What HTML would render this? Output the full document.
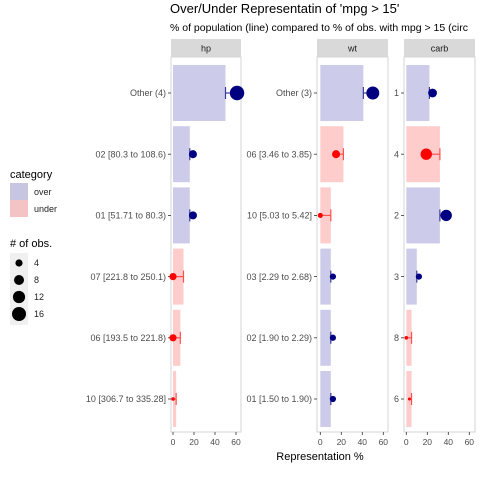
<!DOCTYPE html>
<html><head><meta charset="utf-8"><style>
body{margin:0;background:#fff}
svg text{font-family:"Liberation Sans",sans-serif}
</style></head><body>
<svg id="c" width="480" height="480" viewBox="0 0 480 480">
<text x="170" y="13" font-size="13" fill="#000">Over/Under Representatin of 'mpg &gt; 15'</text>
<text x="170" y="31" font-size="10.5" fill="#000">% of population (line) compared to % of obs. with mpg &gt; 15 (circ</text>
<text x="320" y="460" font-size="11" text-anchor="middle" fill="#000">Representation %</text>
<g>
<text x="10" y="178" font-size="11">category</text>
<rect x="10" y="183" width="18" height="17" fill="#c6c6e2"/>
<rect x="10" y="200" width="18" height="17" fill="#f4c4c4"/>
<text x="34" y="195" font-size="9" fill="#222">over</text>
<text x="34" y="212" font-size="9" fill="#222">under</text>
<text x="10" y="247" font-size="11"># of obs.</text>
<rect x="10" y="253" width="18" height="72" fill="#f0f0f0"/>
<circle cx="19" cy="263" r="3.6" fill="#000"/>
<circle cx="19" cy="280" r="5" fill="#000"/>
<circle cx="19" cy="297" r="6.1" fill="#000"/>
<circle cx="19" cy="314" r="7" fill="#000"/>
<text x="34" y="266" font-size="9" fill="#222">4</text>
<text x="34" y="283" font-size="9" fill="#222">8</text>
<text x="34" y="300" font-size="9" fill="#222">12</text>
<text x="34" y="317" font-size="9" fill="#222">16</text>
</g>
</svg>
<script>
const hpCats=["Other (4)","02 [80.3 to 108.6)","01 [51.71 to 80.3)","07 [221.8 to 250.1)","06 [193.5 to 221.8)","10 [306.7 to 335.28]"];
const hpPop=[50,16,16,10,7,3];
const hpObs=[61,19,19,0,0,0];
const hpN=[16,5,5,4,4,1];
const wtCats=["Other (3)","06 [3.46 to 3.85)","10 [5.03 to 5.42]","03 [2.29 to 2.68)","02 [1.90 to 2.29)","01 [1.50 to 1.90)"];
const wtPop=[41,22,10,10,10,10];
const wtObs=[50,15,0,12,12,12];
const wtN=[13,5,2,3,3,3];
const carbCats=["1","4","2","3","8","6"];
const carbPop=[22,32,32,10,5,5];
const carbObs=[25,19,38,12,0,3];
const carbN=[6,10,10,3,1,0.3];
const ticks=[0,20,40,60];
const panels=[
 {name:"hp",left:171,right:241,x0:173,cats:hpCats,pop:hpPop,obs:hpObs,n:hpN},
 {name:"wt",left:317,right:388,x0:320.3,cats:wtCats,pop:wtPop,obs:wtObs,n:wtN},
 {name:"carb",left:404,right:475,x0:406.3,cats:carbCats,pop:carbPop,obs:carbObs,n:carbN}
];
const NS="http://www.w3.org/2000/svg";
const svgEl=document.getElementById('c');
function mk(t,a,p){const e=document.createElementNS(NS,t);for(const k in a)e.setAttribute(k,a[k]);(p||svgEl).appendChild(e);return e;}
const plotTop=57,plotBottom=432,firstRow=93,rowStep=61.2;
panels.forEach(P=>{
 const sx=v=>P.x0+v*1.05;
 const yc=i=>firstRow+rowStep*i;
 const g=mk('g',{});
 
 
 const strip=mk('rect',{x:P.left,y:39,width:P.right-P.left,height:18,fill:'#d9d9d9'},g);
 
 
 const st=mk('text',{x:(P.left+P.right)/2,y:51.5,'font-size':9,'text-anchor':'middle',fill:'#1a1a1a'},g);
 st.textContent=P.name;
 
 
 const fr=mk('rect',{x:P.left,y:plotTop,width:P.right-P.left,height:plotBottom-plotTop,fill:'none',stroke:'#d6d6d6','stroke-width':1},g);
 
 
 ticks.forEach(t=>{
  mk('line',{x1:sx(t),x2:sx(t),y1:plotBottom,y2:plotBottom+3,stroke:'#333','stroke-width':0.8},g);
  const tl=mk('text',{x:sx(t),y:plotBottom+13,'font-size':8.5,'text-anchor':'middle',fill:'#4d4d4d'},g);
  tl.textContent=t;
  
  
 });
 P.cats.forEach((c,i)=>{
  const y=yc(i);
  const over=P.obs[i]>=P.pop[i];
  const bar=mk('rect',{x:sx(0),y:y-28,width:sx(P.pop[i])-sx(0),height:56,fill:over?'#ccccea':'#ffcccc'},g);
  
  
  mk('line',{x1:P.left-3,x2:P.left,y1:y,y2:y,stroke:'#333','stroke-width':0.8},g);
  const lb=mk('text',{x:P.left-5,y:y+3.2,'font-size':9,'text-anchor':'end',fill:'#4d4d4d'},g);
  lb.textContent=c;
  
  
  const col=over?'#000080':'#ff0000';
  const ecol=over?'#3a3a9a':'#ff5050';
  mk('line',{x1:sx(P.obs[i]),x2:sx(P.pop[i]),y1:y,y2:y,stroke:ecol,'stroke-width':1.2},g);
  mk('line',{x1:sx(P.pop[i]),x2:sx(P.pop[i]),y1:y-6,y2:y+6,stroke:ecol,'stroke-width':1.2},g);
  const pt=mk('circle',{cx:sx(P.obs[i]),cy:y,r:Math.max(1.5,Math.sqrt(P.n[i])*1.8),fill:col},g);
  
  
 });
});
</script>
</body></html>
